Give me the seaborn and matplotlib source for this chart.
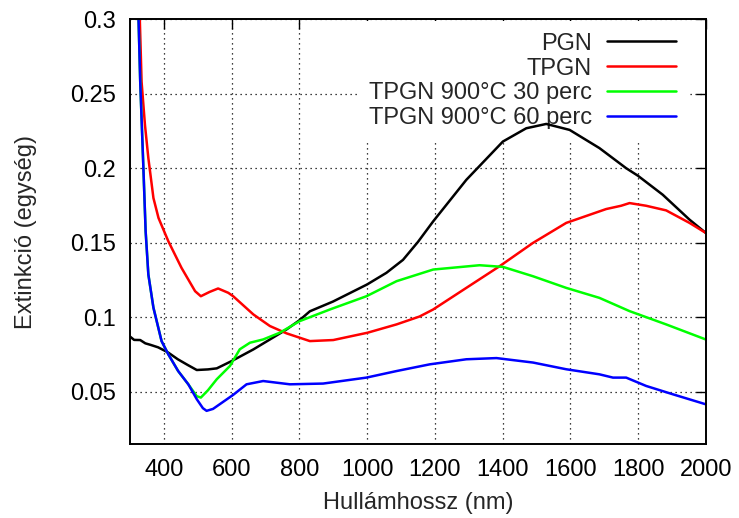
"""
Extinkciós spektrumok (PGN, TPGN, hőkezelt TPGN) - gnuplot stílusú ábra.
"""

import matplotlib

matplotlib.use("Agg")
import matplotlib.pyplot as plt
import numpy as np
import pandas as pd
import seaborn as sns

# ── Data (leolvasva az ábráról) ───────────────────────────────────────

pgn_nm = [300, 312, 330, 345, 360, 383, 412, 441, 470, 497, 530, 556, 600,
          664, 713, 762, 801, 831, 899, 1000, 1057, 1106, 1150, 1195, 1293,
          1401, 1470, 1529, 1598, 1686, 1765, 1800, 1873, 1952, 2000]
pgn_ext = [0.087, 0.0848, 0.0847, 0.0825, 0.0815, 0.0798, 0.0764, 0.0718,
           0.068, 0.0646, 0.065, 0.0657, 0.0706, 0.0784, 0.0851, 0.0918,
           0.0981, 0.104, 0.1105, 0.122, 0.1298, 0.1385, 0.1505, 0.1643,
           0.1922, 0.2179, 0.2268, 0.2297, 0.2257, 0.2135, 0.2, 0.1949,
           0.1822, 0.1655, 0.1566]

tpgn_nm = [325, 334, 344, 354, 369, 384, 413, 452, 492, 509, 535, 560, 590,
           605, 664, 713, 762, 831, 900, 1001, 1087, 1155, 1195, 1293, 1391,
           1490, 1588, 1706, 1750, 1775, 1824, 1883, 1952, 2000]
tpgn_ext = [0.33, 0.258, 0.229, 0.2068, 0.18, 0.1666, 0.151, 0.1331, 0.1175,
            0.1141, 0.117, 0.1193, 0.1164, 0.114, 0.1019, 0.0941, 0.0892,
            0.084, 0.0847, 0.0896, 0.0952, 0.1005, 0.1052, 0.1197, 0.1342,
            0.1499, 0.1633, 0.1726, 0.1748, 0.1766, 0.1748, 0.1717, 0.1633,
            0.1566]

t30_nm = [318, 325, 330, 339, 346, 354, 369, 393, 413, 442, 472, 497, 509,
          530, 556, 595, 624, 654, 693, 742, 801, 890, 998, 1087, 1195, 1332,
          1401, 1490, 1588, 1686, 1775, 1883, 2000]
t30_ext = [0.34, 0.3, 0.258, 0.2023, 0.1576, 0.1287, 0.1064, 0.084, 0.0751,
           0.0639, 0.055, 0.047, 0.0461, 0.051, 0.0584, 0.0673, 0.0785,
           0.0829, 0.0851, 0.0896, 0.0974, 0.1052, 0.1141, 0.1242, 0.132,
           0.1349, 0.1338, 0.1275, 0.1197, 0.113, 0.1041, 0.0952, 0.0851]

t60_nm = [318, 325, 330, 339, 346, 354, 369, 393, 413, 442, 472, 497, 515,
          526, 545, 605, 644, 693, 772, 870, 998, 1087, 1185, 1293, 1382,
          1490, 1588, 1686, 1726, 1765, 1824, 1903, 2000]
t60_ext = [0.34, 0.3, 0.258, 0.2023, 0.1576, 0.1287, 0.1064, 0.084, 0.0751,
           0.0639, 0.055, 0.045, 0.039, 0.0372, 0.0385, 0.048, 0.055, 0.0572,
           0.055, 0.0555, 0.0595, 0.0639, 0.0684, 0.0718, 0.0726, 0.0696,
           0.0651, 0.0617, 0.0595, 0.0595, 0.0539, 0.0483, 0.0416]

labels = ["PGN", "TPGN", "TPGN 900°C 30 perc", "TPGN 900°C 60 perc"]
colors = ["#000000", "#ff0000", "#00ff00", "#0000ff"]
x_ticks = [400, 600, 800, 1000, 1200, 1400, 1600, 1800, 2000]
y_ticks = [0.05, 0.1, 0.15, 0.2, 0.25, 0.3]

# ── Style ─────────────────────────────────────────────────────────────

sns.set_style("white")
plt.rcParams["font.family"] = ["Liberation Sans", "DejaVu Sans"]
plt.rcParams["font.size"] = 17


def build_frame() -> pd.DataFrame:
    parts = []
    for lab, xs, ys in zip(labels,
                           [pgn_nm, tpgn_nm, t30_nm, t60_nm],
                           [pgn_ext, tpgn_ext, t30_ext, t60_ext]):
        parts.append(pd.DataFrame({"nm": xs, "ext": ys, "minta": lab}))
    return pd.concat(parts, ignore_index=True)


def main():
    df = build_frame()

    fig = plt.figure(figsize=(7.39, 5.18), dpi=100)
    ax = fig.add_axes([0.176, 0.143, 0.779, 0.820])

    sns.lineplot(data=df, x="nm", y="ext", hue="minta", hue_order=labels,
                 palette=colors, estimator=None, sort=True, lw=1.8, ax=ax)

    ax.set_xlim(300, 2000)
    ax.set_ylim(0.015, 0.3)
    ax.set_xticks(x_ticks)
    ax.set_yticks(y_ticks)
    ax.set_yticklabels([f"{v:g}" for v in y_ticks])

    ax.grid(True, color="black", linestyle=(0, (1, 3)), lw=0.9)
    ax.tick_params(direction="in", length=7, width=1, top=True, right=True,
                   labelsize=17, colors="black")
    ax.tick_params(axis="y", pad=10)
    ax.tick_params(axis="x", pad=11)
    for sp in ax.spines.values():
        sp.set_color("black")
        sp.set_linewidth(1.4)

    ax.set_xlabel("Hullámhossz (nm)", fontsize=17, labelpad=8)
    ax.set_ylabel("Extinkció (egység)", fontsize=17, labelpad=24)

    # gnuplot-szerű kulcs: fehér háttér a rács fölött, de a görbék alatt
    leg = ax.legend(loc="upper right", bbox_to_anchor=(0.969, 0.996),
                    frameon=True, facecolor="white", edgecolor="none",
                    framealpha=1.0, fancybox=False, markerfirst=False,
                    handlelength=2.92, handletextpad=0.64, labelspacing=0.12,
                    borderpad=0.5, borderaxespad=0.0, fontsize=17)
    leg.set_zorder(1.5)
    for line in ax.get_lines():
        line.set_zorder(2.5)

    fig.savefig("out.png", dpi=100)
    plt.close(fig)


if __name__ == "__main__":
    main()
